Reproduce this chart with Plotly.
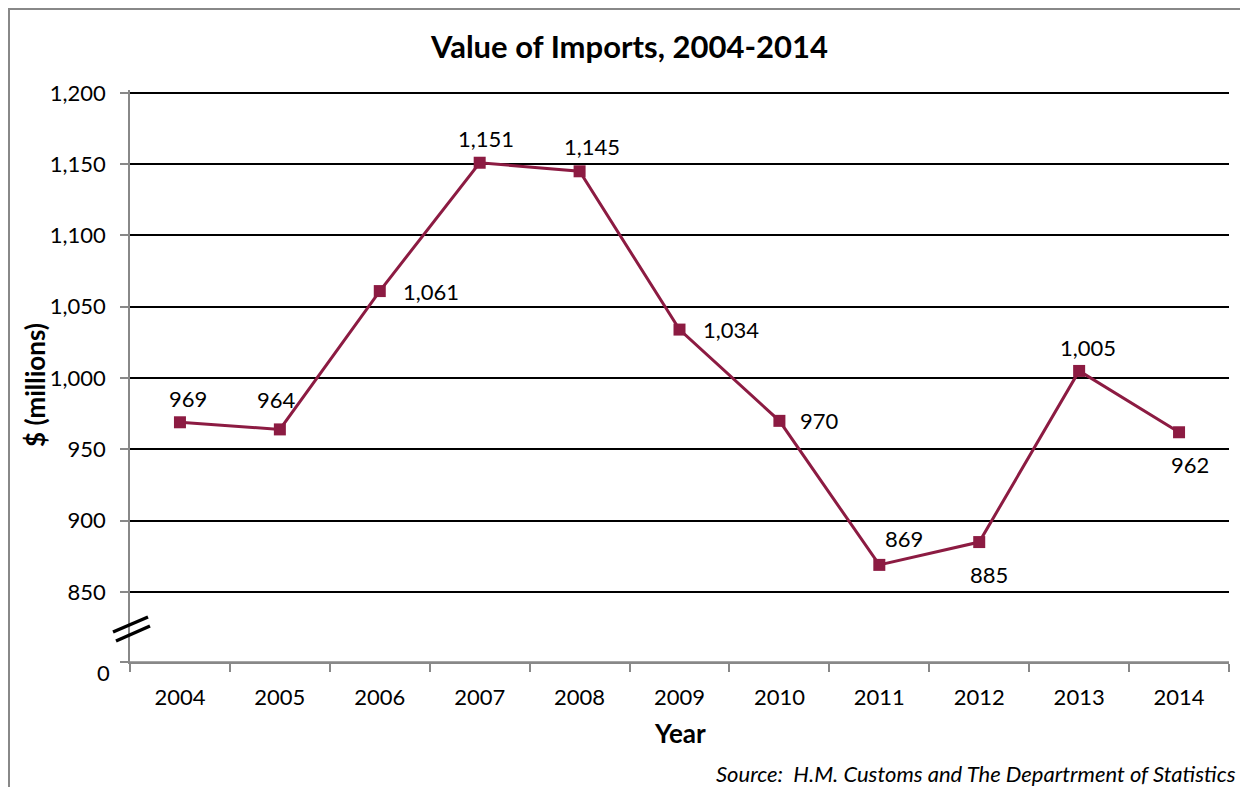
import plotly.graph_objects as go

# data
years = ["2004", "2005", "2006", "2007", "2008", "2009", "2010", "2011", "2012", "2013", "2014"]
imports = [969, 964, 1061, 1151, 1145, 1034, 970, 869, 885, 1005, 962]
# pixel offsets of each value label from its point (dx right, dy up)
label_dx = [8, -3, 51, 6, 12, 51, 40, 25, 10, 9, 11]
label_dy = [24, 30, 0, 24, 25, 0, 0, 26, -32, 23, -32]

# the y axis is broken: everything under 850 is squeezed, "0" sits at break_floor
break_floor = 801
y_ticks = [break_floor, 850, 900, 950, 1000, 1050, 1100, 1150, 1200]
y_text = ["", "850", "900", "950", "1,000", "1,050", "1,100", "1,150", "1,200"]

# page has an 8px body margin, so the figure starts at (8, 8)
OFF = 8
W, H = 1232, 779
L, R, T, B = 122, 11, 82, 125
FONT = "Lato"
LINE = "#8C1B42"


def px(x):
    # page pixel x -> paper coordinate
    return (x - OFF - L) / (W - L - R)


def py(y):
    # page pixel y -> paper coordinate
    return (H - B - (y - OFF)) / (H - T - B)


fig = go.Figure()
fig.add_trace(go.Scatter(
    x=years, y=imports, mode="lines+markers",
    line=dict(color=LINE, width=3),
    marker=dict(symbol="square", size=12, color=LINE),
    cliponaxis=False, showlegend=False,
))

fig.update_xaxes(
    type="category", tickson="boundaries", ticks="outside", ticklen=8,
    tickcolor="#888", tickwidth=1.5, showline=True, linecolor="#888", linewidth=1.5,
    showgrid=False, tickfont=dict(family=FONT, size=22, color="black"),
    ticklabelstandoff=15, range=[-0.5, 10.5],
)
fig.update_yaxes(
    range=[break_floor - 0.1, 1202], tickvals=y_ticks, ticktext=y_text,
    ticks="outside", ticklen=8, tickcolor="#888", tickwidth=1.5,
    showline=True, linecolor="#888", linewidth=1.5, ticklabelstandoff=10,
    showgrid=True, gridcolor="black", gridwidth=1.5, zeroline=False,
    tickfont=dict(family=FONT, size=22, color="black"),
)

shapes = [
    # outer frame of the figure
    dict(type="rect", xref="paper", yref="paper", x0=px(9), y0=py(9), x1=px(1262), y1=py(805),
         line=dict(color="#888", width=2)),
    # hide the gridline drawn at the "0" floor
    dict(type="line", xref="paper", yref="paper", x0=0, x1=1, y0=0, y1=0,
         line=dict(color="#888", width=1.5)),
    # axis break marks
    dict(type="line", xref="paper", yref="paper", x0=px(113), y0=py(632), x1=px(148), y1=py(617),
         line=dict(color="black", width=3.5)),
    dict(type="line", xref="paper", yref="paper", x0=px(116), y0=py(641), x1=px(150), y1=py(626),
         line=dict(color="black", width=3.5)),
]

annotations = [
    dict(text="<b>Value of Imports, 2004-2014</b>", x=px(629), y=py(46), xref="paper", yref="paper",
         xanchor="center", yanchor="middle", showarrow=False,
         font=dict(family=FONT, size=31, color="black")),
    dict(text="<b>$ (millions)</b>", x=px(35), y=py(385), xref="paper", yref="paper",
         xanchor="center", yanchor="middle", textangle=-90, showarrow=False,
         font=dict(family=FONT, size=26, color="black")),
    dict(text="<b>Year</b>", x=px(680), y=py(733), xref="paper", yref="paper",
         xanchor="center", yanchor="middle", showarrow=False,
         font=dict(family=FONT, size=26, color="black")),
    dict(text="<i>Source:  H.M. Customs and The Departrment of Statistics</i>", x=px(1238), y=py(773),
         xref="paper", yref="paper", xanchor="right", yanchor="middle", showarrow=False,
         font=dict(family=FONT, size=22, color="black")),
    # "0" label below the break, sitting a little lower than its tick
    dict(text="0", x=0, y=break_floor, xref="paper", yref="y", xanchor="right", yanchor="middle",
         xshift=-18, yshift=-11, showarrow=False, font=dict(family=FONT, size=22, color="black")),
]

# value labels; category axes place annotations by category index
for i, (v, dx, dy) in enumerate(zip(imports, label_dx, label_dy)):
    annotations.append(dict(
        text=f"{v:,}", x=i, y=v, xref="x", yref="y", xshift=dx, yshift=dy,
        xanchor="center", yanchor="middle", showarrow=False,
        font=dict(family=FONT, size=22, color="black"),
    ))

fig.update_layout(
    width=W, height=H, margin=dict(l=L, r=R, t=T, b=B),
    plot_bgcolor="white", paper_bgcolor="white",
    shapes=shapes, annotations=annotations,
)

fig.write_html("out.html")
